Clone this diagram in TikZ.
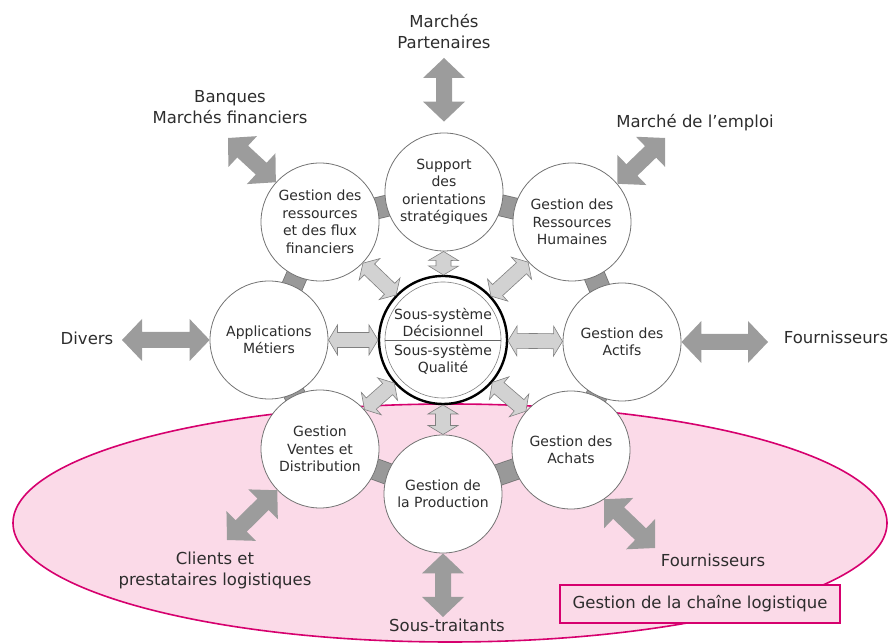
\documentclass[tikz,border=0pt]{standalone}
\usepackage{fontspec}
\setmainfont{DejaVu Sans}
\usetikzlibrary{calc}
\definecolor{chainfill}{RGB}{251,218,232}
\definecolor{chainline}{RGB}{214,0,110}
\definecolor{txt}{RGB}{45,45,45}
\pgfdeclarelayer{back}
\pgfsetlayers{back,main}
% double arrow: style, from, to, head length, head half width, shaft half width
\newcommand\dblarr[6]{\draw[#1] (#2) -- ($(#2)!#4!(#3)!#5!90:(#3)$) -- ($(#2)!#4!(#3)!#6!90:(#3)$)
	-- ($(#3)!#4!(#2)!#6!-90:(#2)$) -- ($(#3)!#4!(#2)!#5!-90:(#2)$) -- (#3)
	-- ($(#3)!#4!(#2)!#5!90:(#2)$) -- ($(#3)!#4!(#2)!#6!90:(#2)$)
	-- ($(#2)!#4!(#3)!#6!-90:(#3)$) -- ($(#2)!#4!(#3)!#5!-90:(#3)$) -- cycle;}

\begin{document}
\begin{tikzpicture}[x=1pt, y=1pt,
		module/.style={circle, draw=black!55, line width=0.8pt, fill=white, minimum size=118pt, inner sep=0pt, align=center, text=txt, font=\fontsize{14}{17.5}\selectfont},
		sub/.style={align=center, inner sep=1pt, text=txt, font=\fontsize{14}{17}\selectfont},
		outside/.style={align=center, inner sep=1pt, text=txt, font=\fontsize{16.5}{21}\selectfont},
		lightarr/.style={fill=gray!35, draw=gray, line width=0.6pt},
		darkarr/.style={fill=gray!78, draw=none},
		bridgeout/.style={draw=black!55, line width=22pt, shorten <=-4pt, shorten >=-4pt},
		bridgein/.style={draw=gray!80, line width=20.4pt, shorten <=-4pt, shorten >=-4pt}]
			%%%%% START %%%%%
			
			\useasboundingbox (0,0) rectangle (894,644);
			
			\node[module] (supp) at (444,452) {Support\\des\\orientations\\stratégiques};
			\node[module] (fin) at (320,422) {Gestion des\\ressources\\et des flux\\financiers};
			\node[module] (rh) at (572,422) {Gestion des\\Ressources\\Humaines};
			\node[module] (app) at (269,304) {Applications\\Métiers};
			\node[module] (act) at (622,302) {Gestion des\\Actifs};
			\node[module] (ven) at (320,195) {Gestion\\Ventes et\\Distribution};
			\node[module] (prod) at (443,150) {Gestion de\\la Production};
			\node[module] (ach) at (571,194) {Gestion des\\Achats};
			
			\node[circle, draw=black, line width=2.4pt, fill=white, minimum size=128pt] (C) at (443,304) {};
			\node[circle, draw=black!50, line width=0.6pt, minimum size=116pt] (Cin) at (C) {};
			\draw[black!60, line width=0.8pt] (Cin.west) -- (Cin.east);
			\node[sub, anchor=south] (dec) at ([yshift=2pt]C.center) {Sous-système\\Décisionnel};
			\node[sub, anchor=north] (qual) at ([yshift=-3pt]C.center) {Sous-système\\Qualité};
			
			\begin{pgfonlayer}{back}
				\draw[fill=chainfill, draw=chainline, line width=1.6pt] (450,121) ellipse [x radius=437, y radius=119];
				\foreach \a/\b in {supp/fin, fin/app, app/ven, ven/prod, prod/ach, ach/act, act/rh, rh/supp} {
					\draw[bridgeout] (\a) -- (\b);
					\draw[bridgein] (\a) -- (\b);
				}
			\end{pgfonlayer}
			
			\foreach \n in {supp,fin,rh,app,act,ven,prod,ach} {
				\coordinate (la) at ($(C)!65pt!(\n)$);
				\coordinate (lb) at ($(\n)!59.5pt!(C)$);
				\dblarr{lightarr}{la}{lb}{9pt}{15pt}{7.5pt}
			}
			
			\node[outside] (part) at (444,612) {Marchés\\Partenaires};
			\node[outside] (banq) at (230,537) {Banques\\Marchés financiers};
			\node[outside] (empl) at (695,521) {Marché de l'emploi};
			\node[outside] (div) at (87,306) {Divers};
			\node[outside] (fourR) at (836,307) {Fournisseurs};
			\node[outside] (cli) at (215,74) {Clients et\\prestataires logistiques};
			\node[outside] (sous) at (447,19) {Sous-traitants};
			\node[outside] (fourL) at (713,84) {Fournisseurs};
			\node[outside, draw=chainline, line width=1.6pt, fill=chainfill, minimum width=280pt, minimum height=38pt] (chaine) at (700,40) {Gestion de la chaîne logistique};
			
			\coordinate (tPart) at (444,586);
			\coordinate (sPart) at ([yshift=11pt]supp.north);
			\dblarr{darkarr}{sPart}{tPart}{20pt}{21pt}{8pt}
			\coordinate (tBanq) at (228,506);
			\coordinate (sBanq) at (fin.138);
			\dblarr{darkarr}{sBanq}{tBanq}{20pt}{21pt}{8pt}
			\coordinate (tEmpl) at (665,506);
			\coordinate (sEmpl) at (rh.40);
			\dblarr{darkarr}{sEmpl}{tEmpl}{20pt}{21pt}{8pt}
			\coordinate (tDiv) at (122,304);
			\coordinate (sDiv) at (app.180);
			\dblarr{darkarr}{sDiv}{tDiv}{20pt}{21pt}{8pt}
			\coordinate (tFourR) at (768,302);
			\coordinate (sFourR) at (act.0);
			\dblarr{darkarr}{sFourR}{tFourR}{20pt}{21pt}{8pt}
			\coordinate (tCli) at (227,104);
			\coordinate (sCli) at (ven.224);
			\dblarr{darkarr}{sCli}{tCli}{20pt}{21pt}{8pt}
			\coordinate (tSous) at (443,27);
			\coordinate (sSous) at (prod.270);
			\dblarr{darkarr}{sSous}{tSous}{20pt}{21pt}{8pt}
			\coordinate (tFourL) at (655,96);
			\coordinate (sFourL) at (ach.-56);
			\dblarr{darkarr}{sFourL}{tFourL}{20pt}{21pt}{8pt}
			
			%%%%% END %%%%%
\end{tikzpicture}
\end{document}
